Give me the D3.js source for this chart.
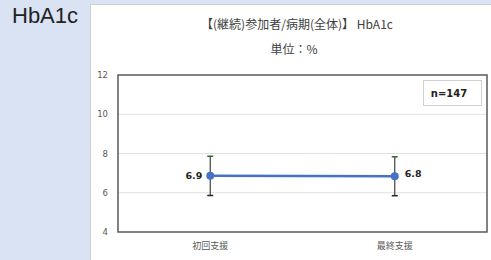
<!DOCTYPE html>
<html>
<head>
<meta charset="utf-8">
<script src="https://cdn.jsdelivr.net/npm/d3@7"></script>
<style>
  body { margin:0; padding:0; background:#dae3f3; }
  svg { display:block; }
</style>
</head>
<body>
<div id="chart"></div>
<script>
var categories = ["初回支援", "最終支援"];
var means = [6.86, 6.84];
var meanLabels = ["6.9", "6.8"];
var sds = [1.0, 0.99];
var yTicks = [4, 6, 8, 10, 12];
var nLabel = "n=147";

function init() {
    var w = 491, h = 260;
    var left = 118, right = 487, top = 75, bottom = 232;

    var svg = d3.select("#chart").append("svg")
        .attr("width", w).attr("height", h);

    svg.append("rect").attr("x", 0).attr("y", 0).attr("width", w).attr("height", h)
        .attr("fill", "#dae3f3");

    // white panel
    svg.append("rect").attr("x", 90.5).attr("y", 4.5).attr("width", 410).attr("height", 270)
        .attr("fill", "#fff").attr("stroke", "#d0d0d0");

    svg.append("text").attr("x", 12).attr("y", 23)
        .style("font-family", "'Liberation Sans', Arial, sans-serif").style("font-size", "22px")
        .attr("fill", "#222").text("HbA1c");

    svg.append("text").attr("x", 297).attr("y", 29).attr("text-anchor", "middle")
        .style("font-family", "'Noto Sans CJK JP', sans-serif").style("font-size", "12px")
        .attr("fill", "#404040").text("【(継続)参加者/病期(全体)】 HbA1c");

    svg.append("text").attr("x", 294).attr("y", 54).attr("text-anchor", "middle")
        .style("font-family", "'Noto Sans CJK JP', sans-serif").style("font-size", "12px")
        .attr("fill", "#404040").text("単位：%");

    var x = d3.scaleBand().domain(categories).range([left, right]);
    var y = d3.scaleLinear().domain([4, 12]).range([bottom, top]);

    // grid
    svg.selectAll(".grid").data(yTicks.slice(1, -1)).enter().append("line")
        .attr("x1", left).attr("x2", right)
        .attr("y1", function(d){ return y(d); }).attr("y2", function(d){ return y(d); })
        .attr("stroke", "#e0e0e0").attr("stroke-width", 1);

    var yAxis = d3.axisLeft(y).tickValues(yTicks).tickSize(0).tickPadding(10);
    var gy = svg.append("g").attr("transform", "translate(" + left + ",0)").call(yAxis);
    gy.select(".domain").remove();
    gy.selectAll("text").style("font-family", "Verdana, 'DejaVu Sans', sans-serif")
        .style("font-size", "8.5px").attr("fill", "#595959");

    var xAxis = d3.axisBottom(x).tickSize(0).tickPadding(11);
    var gx = svg.append("g").attr("transform", "translate(0," + bottom + ")").call(xAxis);
    gx.select(".domain").remove();
    gx.selectAll("text").style("font-family", "'Noto Sans CJK JP', sans-serif")
        .style("font-size", "9px").attr("fill", "#595959");

    // plot border
    svg.append("rect").attr("x", left).attr("y", top)
        .attr("width", right - left).attr("height", bottom - top)
        .attr("fill", "none").attr("stroke", "#595959").attr("stroke-width", 1.5);

    var cx = function(i){ return x(categories[i]) + x.bandwidth() / 2; };

    // error bars
    var eb = svg.selectAll(".eb").data(means).enter().append("g");
    eb.append("line")
        .attr("x1", function(d,i){ return cx(i); }).attr("x2", function(d,i){ return cx(i); })
        .attr("y1", function(d,i){ return y(d + sds[i]); })
        .attr("y2", function(d,i){ return y(d - sds[i]); })
        .attr("stroke", "#404040").attr("stroke-width", 1.2);
    eb.append("line")
        .attr("x1", function(d,i){ return cx(i) - 3; }).attr("x2", function(d,i){ return cx(i) + 3; })
        .attr("y1", function(d,i){ return y(d + sds[i]); })
        .attr("y2", function(d,i){ return y(d + sds[i]); })
        .attr("stroke", "#2f6b30").attr("stroke-width", 1.5);
    eb.append("line")
        .attr("x1", function(d,i){ return cx(i) - 3; }).attr("x2", function(d,i){ return cx(i) + 3; })
        .attr("y1", function(d,i){ return y(d - sds[i]); })
        .attr("y2", function(d,i){ return y(d - sds[i]); })
        .attr("stroke", "#222").attr("stroke-width", 1.5);

    var line = d3.line()
        .x(function(d,i){ return cx(i); })
        .y(function(d){ return y(d); });
    svg.append("path").datum(means).attr("d", line)
        .attr("fill", "none").attr("stroke", "#4472c4").attr("stroke-width", 2.5);

    svg.selectAll(".dot").data(means).enter().append("circle")
        .attr("cx", function(d,i){ return cx(i); })
        .attr("cy", function(d){ return y(d); })
        .attr("r", 4).attr("fill", "#4472c4");

    svg.selectAll(".lbl").data(means).enter().append("text")
        .attr("x", function(d,i){ return i == 0 ? cx(i) - 8 : cx(i) + 10; })
        .attr("y", function(d,i){ return i == 0 ? y(d) + 3.5 : y(d) + 0.5; })
        .attr("text-anchor", function(d,i){ return i == 0 ? "end" : "start"; })
        .style("font-family", "Verdana, 'DejaVu Sans', sans-serif")
        .style("font-size", "9.5px").style("font-weight", "bold").attr("fill", "#222")
        .text(function(d,i){ return meanLabels[i]; });

    // n box
    svg.append("rect").attr("x", 423.5).attr("y", 80.5).attr("width", 58).attr("height", 25)
        .attr("fill", "#fff").attr("stroke", "#d0d0d0");
    svg.append("text").attr("x", 449).attr("y", 97).attr("text-anchor", "middle")
        .style("font-family", "Verdana, 'DejaVu Sans', sans-serif")
        .style("font-size", "10px").style("font-weight", "bold").attr("fill", "#222")
        .text(nLabel);
}

window.onload = init;
</script>
</body>
</html>
